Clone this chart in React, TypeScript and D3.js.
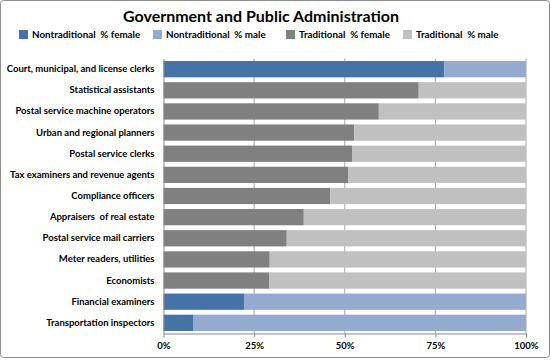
import * as d3 from "d3";
import React, { useEffect, useRef } from "react";

const categories = [
  "Court, municipal, and license clerks",
  "Statistical assistants",
  "Postal service machine operators",
  "Urban and regional planners",
  "Postal service clerks",
  "Tax examiners and revenue agents",
  "Compliance officers",
  "Appraisers  of real estate",
  "Postal service mail carriers",
  "Meter readers, utilities",
  "Economists",
  "Financial examiners",
  "Transportation inspectors",
];

const nontradFemale = [77.4, 0, 0, 0, 0, 0, 0, 0, 0, 0, 0, 22.2, 8.3];
const nontradMale = [22.6, 0, 0, 0, 0, 0, 0, 0, 0, 0, 0, 77.8, 91.7];
const tradFemale = [0, 70.4, 59.4, 52.6, 52.0, 51.0, 46.0, 38.7, 34.0, 29.3, 29.2, 0, 0];
const tradMale = [0, 29.6, 40.6, 47.4, 48.0, 49.0, 54.0, 61.3, 66.0, 70.7, 70.8, 0, 0];

const seriesNames = [
  "Nontraditional  % female",
  "Nontraditional  % male",
  "Traditional  % female",
  "Traditional  % male",
];
const tickLabels = ["0%", "25%", "50%", "75%", "100%"];

const App = () => {
  const ref = useRef<SVGSVGElement>(null);

  useEffect(() => {
    const width = 551;
    const height = 360;
    const margin = { top: 58.5, right: 24.5, bottom: 26.5, left: 163.5 };
    const font = "Lato, 'Open Sans', sans-serif";
    const colors = ["#4572A7", "#94AAD1", "#808080", "#C0C0C0"];

    const svg = d3.select(ref.current);
    svg.selectAll("*").remove();

    // Chart border
    svg
      .append("rect")
      .attr("x", 0.5)
      .attr("y", 0.5)
      .attr("width", width - 2)
      .attr("height", height - 3)
      .attr("rx", 3)
      .attr("fill", "white")
      .attr("stroke", "#8c8c8c");

    // Title
    svg
      .append("text")
      .attr("x", 261)
      .attr("y", 22)
      .attr("text-anchor", "middle")
      .style("font-family", font)
      .style("font-weight", "bold")
      .style("font-size", "16px")
      .text("Government and Public Administration");

    // Legend
    const legendX = [19, 153, 286, 403];
    const legend = svg.append("g");
    seriesNames.forEach((name, i) => {
      legend
        .append("rect")
        .attr("x", legendX[i])
        .attr("y", 30)
        .attr("width", 9)
        .attr("height", 9)
        .attr("fill", colors[i]);
      legend
        .append("text")
        .attr("x", legendX[i] + 13)
        .attr("y", 38)
        .style("font-family", font)
        .style("font-weight", "bold")
        .style("font-size", "9.8px")
        .style("white-space", "pre")
        .text(name);
    });

    const innerW = 362.5;
    const innerH = height - margin.top - margin.bottom;

    const rows = categories.map((c, i) => ({
      category: c,
      s0: nontradFemale[i],
      s1: nontradMale[i],
      s2: tradFemale[i],
      s3: tradMale[i],
    }));

    const stack = d3.stack<any>().keys(["s0", "s1", "s2", "s3"]);
    const stacked = stack(rows);

    const x = d3.scaleLinear().domain([0, 100]).range([0, innerW]);
    const y = d3
      .scaleBand()
      .domain(categories)
      .range([0, innerH])
      .paddingInner(0.23)
      .paddingOuter(0.12);

    const g = svg.append("g").attr("transform", `translate(${margin.left}, ${margin.top})`);

    // Gridlines
    g.append("g")
      .selectAll("line")
      .data([25, 50, 75, 100])
      .join("line")
      .attr("x1", (d) => x(d))
      .attr("x2", (d) => x(d))
      .attr("y1", 0)
      .attr("y2", innerH)
      .attr("stroke", "#a6a6a6")
      .attr("stroke-width", 1);

    // Bars
    g.append("g")
      .selectAll("g")
      .data(stacked)
      .join("g")
      .attr("fill", (d, i) => colors[i])
      .selectAll("rect")
      .data((d) => d)
      .join("rect")
      .attr("x", (d) => x(d[0]))
      .attr("y", (d) => y(d.data.category)!)
      .attr("width", (d) => x(d[1]) - x(d[0]))
      .attr("height", y.bandwidth());

    // Axes
    const xAxis = d3
      .axisBottom(x)
      .tickValues([0, 25, 50, 75, 100])
      .tickFormat((d, i) => tickLabels[i])
      .tickSize(4)
      .tickSizeOuter(0);
    const xg = g.append("g").attr("transform", `translate(0, ${innerH})`).call(xAxis);
    xg.select(".domain").attr("stroke", "#888");
    xg.selectAll(".tick line").attr("stroke", "#888");
    xg.selectAll(".tick text")
      .attr("dy", "0.9em")
      .style("font-family", font)
      .style("font-weight", "bold")
      .style("font-size", "9.5px");

    const yAxis = d3.axisLeft(y).tickSize(0).tickPadding(9);
    const yg = g.append("g").call(yAxis);
    yg.select(".domain").attr("stroke", "#888");
    yg.selectAll(".tick text")
      .style("font-family", font)
      .style("font-weight", "bold")
      .style("font-size", "9.5px")
      .style("white-space", "pre");
  }, []);

  return (
    <svg
      ref={ref}
      width={551}
      height={360}
      style={{ position: "absolute", left: 0, top: 0 }}
    ></svg>
  );
};

export default App;
